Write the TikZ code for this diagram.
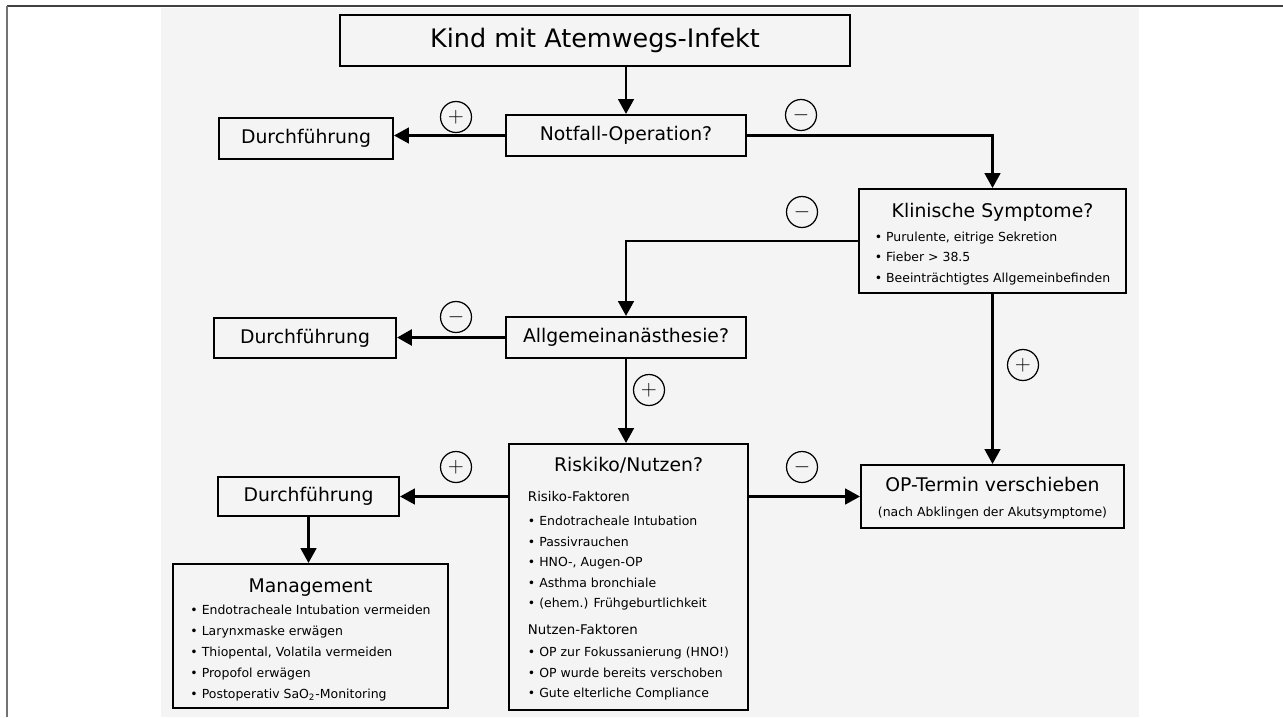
\documentclass[tikz,border=0pt]{standalone}
\usepackage{fontspec}
\setmainfont{DejaVu Sans}
\usetikzlibrary{calc,arrows.meta}
\definecolor{panel}{HTML}{F4F4F4}
\newcommand{\titletxt}{\fontsize{14.5}{17}\selectfont}
\newcommand{\medtxt}{\fontsize{10.7}{13}\selectfont}
\newcommand{\subtxt}{\fontsize{7.6}{11.7}\selectfont}
\newcommand{\smalltxt}{\fontsize{7.1}{11.7}\selectfont}
\newcommand{\sinkby}[2]{\raisebox{-#1}[\height][\depth]{#2}}
\tikzset{
  box/.style={draw, line width=1.2pt, inner sep=0pt, minimum height=0.82cm, font=\medtxt},
  sign/.style={draw, circle, line width=0.7pt, minimum size=0.62cm, inner sep=0pt, font=\fontsize{13}{13}\selectfont},
  arr/.style={line width=1.3pt, -{Triangle[length=8.5pt,width=9pt]}},
}

\begin{document}
\begin{tikzpicture}[x=0.02cm,y=-0.02cm]

    \useasboundingbox (0,0) rectangle (1283,717);
    \fill[panel] (161,8) rectangle (1139,717);
    \draw[black!75,line width=1.1pt] (7,6) -- (1283,6);
    \draw[black!55,line width=0.7pt] (7,6) -- (7,717);

    \node[box,minimum width=10.2cm,minimum height=1.02cm,font=\titletxt] (top) at (595,40.5) {Kind mit Atemwegs-Infekt};
    \node[box,minimum width=4.8cm] (notf) at (626,135.5) {Notfall-Operation?};
    \node[box,minimum width=3.48cm] (durch1) at (306,138.5) {Durchführung};

    \node[box,minimum width=5.34cm,minimum height=2.08cm,font=\smalltxt] (klin) at (992.5,241) {%
      \sinkby{2.8pt}{\begin{tabular}{@{}l@{}}
        \multicolumn{1}{@{}c@{}}{\medtxt Klinische Symptome?}\\[1.9pt]
        \textbullet\ Purulente, eitrige Sekretion\\
        \textbullet\ Fieber > 38.5\\
        \textbullet\ Beeinträchtigtes Allgemeinbefinden
      \end{tabular}}};

    \node[box,minimum width=4.8cm] (allg) at (626,337.5) {Allgemeinanästhesie?};
    \node[box,minimum width=3.64cm,minimum height=0.8cm] (durch2) at (305,338) {Durchführung};

    \node[box,minimum width=4.78cm,minimum height=5.32cm,font=\smalltxt] (risk) at (628.5,577) {%
      \sinkby{2pt}{\begin{tabular}{@{}l@{}}
        \multicolumn{1}{@{}c@{}}{\medtxt Riskiko/Nutzen?}\\[5.3pt]
        {\subtxt Risiko-Faktoren}\\[2pt]
        \textbullet\ Endotracheale Intubation\\
        \textbullet\ Passivrauchen\\
        \textbullet\ HNO-, Augen-OP\\
        \textbullet\ Asthma bronchiale\\
        \textbullet\ (ehem.) Frühgeburtlichkeit\\[3.6pt]
        {\subtxt Nutzen-Faktoren}\\[0.8pt]
        \textbullet\ OP zur Fokussanierung (HNO!)\\
        \textbullet\ OP wurde bereits verschoben\\
        \textbullet\ Gute elterliche Compliance
      \end{tabular}}};

    \node[box,minimum width=5.26cm,minimum height=1.26cm,font=\smalltxt] (opt) at (992.5,496.5)
      {\sinkby{1.8pt}{\begin{tabular}{@{}c@{}}{\medtxt OP-Termin verschieben}\\[2.3pt](nach Abklingen der Akutsymptome)\end{tabular}}};
    \node[box,minimum width=3.62cm,minimum height=0.78cm] (durch3) at (308.5,496.5) {Durchführung};

    \node[box,minimum width=5.5cm,minimum height=2.88cm,font=\smalltxt] (mgmt) at (310.5,636) {%
      \sinkby{3pt}{\begin{tabular}{@{}l@{}}
        \multicolumn{1}{@{}c@{}}{\medtxt Management}\\[0.6pt]
        \textbullet\ Endotracheale Intubation vermeiden\\[0.2pt]
        \textbullet\ Larynxmaske erwägen\\[0.2pt]
        \textbullet\ Thiopental, Volatila vermeiden\\[0.2pt]
        \textbullet\ Propofol erwägen\\[0.2pt]
        \textbullet\ Postoperativ SaO\textsubscript{2}-Monitoring
      \end{tabular}}};

    % connectors
    \draw[arr] (notf.north |- top.south) -- (notf.north);
    \draw[arr] (notf.west) -- (notf.west -| durch1.east);
    \draw[arr] (notf.east) -| (klin.north);
    \draw[arr] (klin.west) -| (allg.north);
    \draw[arr,line width=1.9pt] (allg.west) -- (allg.west -| durch2.east);
    \draw[arr] (allg.south) -- (allg.south |- risk.north);
    \draw[arr] (klin.south) -- (klin.south |- opt.north);
    \draw[arr] (opt.west -| risk.east) -- (opt.west);
    \draw[arr] (durch3.east -| risk.west) -- (durch3.east);
    \draw[arr] (durch3.south) -- (durch3.south |- mgmt.north);

    % decision signs
    \node[sign] (plus1) at (456,117) {$+$};
    \node[sign] (minus1) at (801,115) {$-$};
    \node[sign] (minus2) at (802,212) {$-$};
    \node[sign] (minus3) at (456,317) {$-$};
    \node[sign] (plus2) at (649,390) {$+$};
    \node[sign] (plus3) at (1023,365) {$+$};
    \node[sign] (plus4) at (456,467) {$+$};
    \node[sign] (minus4) at (802,467) {$-$};

\end{tikzpicture}
\end{document}
